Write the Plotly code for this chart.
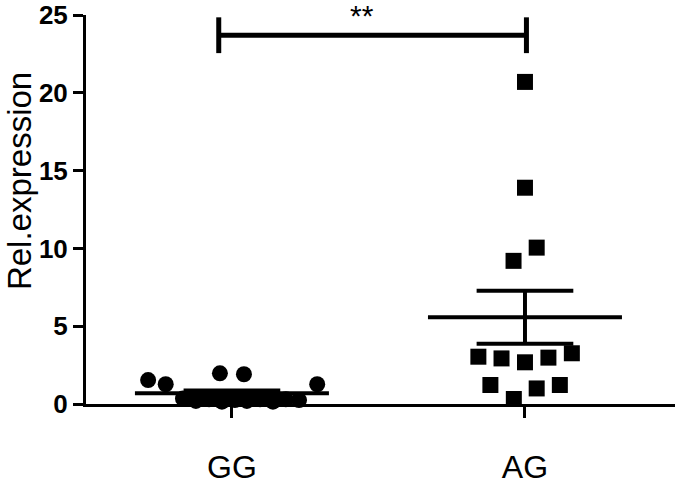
import numpy as np
import plotly.graph_objects as go

# ---- data ----
groups = ["GG", "AG"]
group_pos = [1, 2]

gg_values = [1.54, 1.27, 1.97, 1.91, 1.27,
             0.35, 0.20, 0.30, 0.15, 0.25, 0.20, 0.30, 0.15, 0.30, 0.25]
gg_jitter = [-0.286, -0.226, -0.041, 0.041, 0.291,
             -0.167, -0.123, -0.078, -0.034, 0.010, 0.051, 0.096, 0.140, 0.184, 0.229]

ag_values = [20.7, 13.9, 10.05, 9.2, 3.04, 2.93, 2.68, 2.98, 3.26, 1.22, 1.0, 1.22, 0.32]
ag_jitter = [0.0, 0.0, 0.040, -0.039, -0.159, -0.080, 0.0, 0.080, 0.160, -0.118, 0.040, 0.119, -0.038]

y_ticks = [0, 5, 10, 15, 20, 25]
y_title = "Rel.expression"
sig_label = "**"
bracket_y = 23.7
bracket_drop = 1.15

MEAN_HALF = 0.331
CAP_HALF = 0.165

fig = go.Figure()

def add_group(pos, vals, jit, symbol):
    vals = np.array(vals)
    xs = pos + np.array(jit)
    fig.add_trace(go.Scatter(x=xs, y=vals, mode="markers",
                             marker=dict(symbol=symbol, size=16, color="black"),
                             cliponaxis=False, showlegend=False, hoverinfo="y"))
    m = vals.mean()
    sem = vals.std(ddof=1) / np.sqrt(len(vals))
    line = dict(color="black", width=4)
    fig.add_trace(go.Scatter(x=[pos - MEAN_HALF, pos + MEAN_HALF], y=[m, m], mode="lines",
                             line=line, cliponaxis=False, showlegend=False, hoverinfo="skip"))
    fig.add_trace(go.Scatter(x=[pos, pos], y=[m - sem, m + sem], mode="lines",
                             line=line, cliponaxis=False, showlegend=False, hoverinfo="skip"))
    for yy in (m - sem, m + sem):
        fig.add_trace(go.Scatter(x=[pos - CAP_HALF, pos + CAP_HALF], y=[yy, yy], mode="lines",
                                 line=line, cliponaxis=False, showlegend=False, hoverinfo="skip"))

add_group(group_pos[0], gg_values, gg_jitter, "circle")
add_group(group_pos[1], ag_values, ag_jitter, "square")

# significance bracket
bx0, bx1 = group_pos[0] - 0.045, group_pos[1] + 0.005
bl = dict(color="black", width=5)
fig.add_trace(go.Scatter(x=[bx0, bx1], y=[bracket_y, bracket_y], mode="lines", line=bl,
                         cliponaxis=False, showlegend=False, hoverinfo="skip"))
for bx in (bx0, bx1):
    fig.add_trace(go.Scatter(x=[bx, bx], y=[bracket_y - bracket_drop, bracket_y + bracket_drop],
                             mode="lines", line=bl, cliponaxis=False, showlegend=False,
                             hoverinfo="skip"))

fig.add_annotation(x=(bx0 + bx1) / 2 - 0.035, y=bracket_y, xref="x", yref="y",
                   text=sig_label, showarrow=False, yanchor="bottom", yshift=1,
                   font=dict(family="Liberation Sans", size=30, color="black"))

fig.add_annotation(x=0, y=0.573, xref="paper", yref="paper", text=y_title,
                   textangle=-90, showarrow=False, xanchor="center", yanchor="middle",
                   xshift=-67,
                   font=dict(family="Liberation Sans", size=33, color="black"))

fig.update_layout(
    width=675, height=486,
    margin=dict(l=86, r=0, t=15, b=82, pad=0),
    plot_bgcolor="white", paper_bgcolor="white",
    showlegend=False,
    xaxis=dict(range=[0.502, 2.512], tickvals=group_pos, ticktext=groups,
               automargin=False,
               showgrid=False, zeroline=False, showline=True, linecolor="black", linewidth=3,
               ticks="outside", ticklen=11, tickwidth=3, tickcolor="black",
               ticklabelstandoff=22,
               tickfont=dict(family="Liberation Sans", size=32, color="black")),
    yaxis=dict(range=[0, 25], tickvals=y_ticks, automargin=False,
               showgrid=False, zeroline=False, showline=True, linecolor="black", linewidth=3,
               ticks="outside", ticklen=10, tickwidth=3, tickcolor="black",
               tickfont=dict(family="Liberation Sans", size=26, color="black", weight="bold")),
)

# remove the browser's default 8px page margin so the figure fills the window
fig.write_html("out.html", config={"displayModeBar": False},
               post_script="document.body.style.margin='0px';")
